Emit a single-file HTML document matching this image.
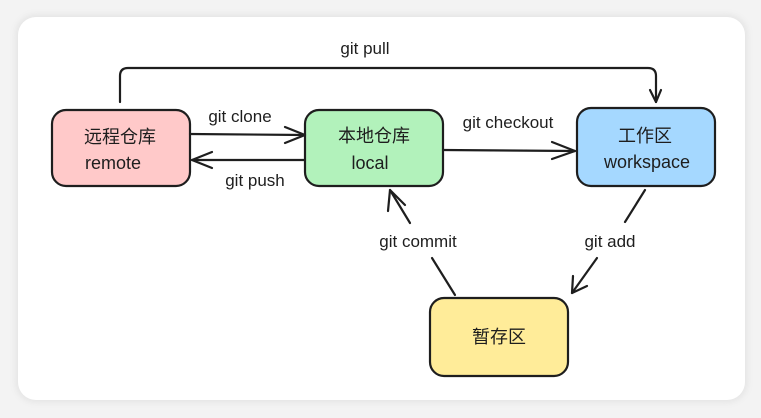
<!DOCTYPE html>
<html><head><meta charset="utf-8"><style>
html,body{margin:0;padding:0;background:#f3f3f3;}
body{width:761px;height:418px;position:relative;overflow:hidden;font-family:"Liberation Sans","Noto Sans CJK SC",sans-serif;}
.card{position:absolute;left:18px;top:17px;width:727px;height:383px;background:#fff;border-radius:18px;box-shadow:0 0 6px 3px #e6e6e6;}
svg{position:absolute;left:0;top:0;}
text{font-family:"Liberation Sans","Noto Sans CJK SC",sans-serif;fill:#1e1e1e;}
</style></head><body>
<div class="card"></div>
<svg width="761" height="418" viewBox="0 0 761 418">
<g stroke="#1e1e1e" stroke-width="2.2" fill="none" stroke-linecap="round" stroke-linejoin="round">
<rect x="52" y="110" width="138" height="76" rx="14" fill="#ffc9c9"/>
<rect x="305" y="110" width="138" height="76" rx="14" fill="#b2f2bb"/>
<rect x="577" y="108" width="138" height="78" rx="14" fill="#a5d8ff"/>
<rect x="430" y="298" width="138" height="78" rx="14" fill="#ffec99"/>
<path d="M120 102 V76 Q120 68 128 68 H648 Q656 68 656 76 V102"/>
<path d="M650 90 L656 102 L661 90"/>
<path d="M190 134 L305 135"/><path d="M285 127 L305 135 L285 143"/>
<path d="M305 160 L192 160"/><path d="M212 152 L192 160 L212 168"/>
<path d="M443 150 L575 151"/><path d="M552 142 L575 151 L552 159"/>
<path d="M455 295 L432 258"/><path d="M410 223 L390 190"/><path d="M388 211 L390 190 L405 205"/>
<path d="M645 190 L625 222"/><path d="M597 258 L572 293"/><path d="M573 276 L572 293 L587 286"/>
</g>
<g font-size="17" text-anchor="middle">
<text x="365" y="54">git pull</text>
<text x="240" y="122">git clone</text>
<text x="255" y="186">git push</text>
<text x="508" y="128">git checkout</text>
<text x="418" y="247">git commit</text>
<text x="610" y="247">git add</text>
<text x="120" y="143" font-size="18">远程仓库</text>
<text x="113" y="169" font-size="18">remote</text>
<text x="374" y="142" font-size="18">本地仓库</text>
<text x="370" y="169" font-size="18">local</text>
<text x="645" y="142" font-size="18">工作区</text>
<text x="647" y="168" font-size="18">workspace</text>
<text x="499" y="343" font-size="18">暂存区</text>
</g>
</svg>
</body></html>
